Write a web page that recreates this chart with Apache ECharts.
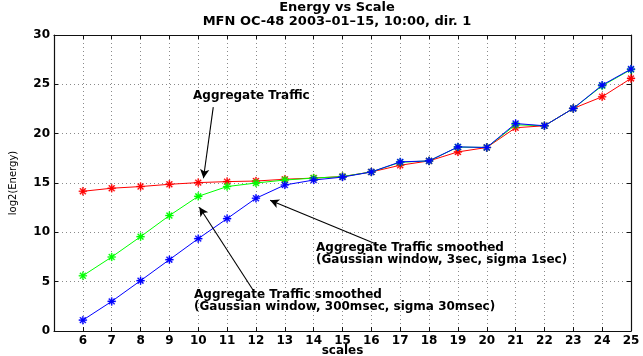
<!DOCTYPE html>
<html>
<head>
<meta charset="utf-8">
<script src="https://cdn.jsdelivr.net/npm/echarts@6/dist/echarts.min.js"></script>
<style>
  html, body { margin: 0; padding: 0; background: #fff; }
  #chart { width: 643px; height: 356px; }
</style>
</head>
<body>
<div id="chart"></div>
<script>
// Wavelet scales on the x axis
var scales = [6, 7, 8, 9, 10, 11, 12, 13, 14, 15, 16, 17, 18, 19, 20, 21, 22, 23, 24, 25];

// log2(Energy) per scale
var aggregate = [14.16, 14.47, 14.64, 14.87, 15.04, 15.14, 15.2, 15.38, 15.5, 15.65,
                 16.12, 16.8, 17.24, 18.15, 18.6, 20.6, 20.8, 22.56, 23.74, 25.6];
var smoothed3sec = [5.6, 7.5, 9.56, 11.7, 13.65, 14.64, 15.0, 15.3, 15.5, 15.65,
                    16.12, 17.1, 17.24, 18.64, 18.6, 20.9, 20.8, 22.56, 24.85, 26.5];
var smoothed300ms = [1.1, 3.0, 5.1, 7.23, 9.36, 11.39, 13.45, 14.8, 15.3, 15.6,
                     16.12, 17.14, 17.24, 18.66, 18.6, 21.03, 20.8, 22.56, 24.92, 26.55];

// Axis ranges and tick spacing
var xRange = [5, 25];
var yRange = [0, 30];
var yStep = 5;

// Annotation arrows: [tail, head] in data coordinates
var arrows = [
  [[10.52, 22.69], [10.18, 15.48]],
  [[16.12, 8.88], [12.49, 13.25]],
  [[11.91, 4.11], [10.04, 12.54]]
];

function pairs(vals) {
  return scales.map(function (s, i) { return [s, vals[i]]; });
}

// MATLAB-style asterisk marker
var asterisk = 'path://' +
  'M-0.7,-5L0.7,-5L0.7,5L-0.7,5Z' +
  'M-5,-0.7L5,-0.7L5,0.7L-5,0.7Z' +
  'M-3.04,-4.03L4.03,3.04L3.04,4.03L-4.03,-3.04Z' +
  'M3.04,-4.03L4.03,-3.04L-3.04,4.03L-4.03,3.04Z';

var FONT = 'DejaVu Sans';
var gridLine = { show: true, lineStyle: { color: '#8a8a8a', width: 1, type: [1, 3] } };
var frame = { show: true, onZero: false, lineStyle: { color: '#111', width: 1.2 } };
var inTick = { show: true, inside: true, length: 4, lineStyle: { color: '#111', width: 1 } };

function lineSeries(name, vals, color, z) {
  return {
    name: name,
    type: 'line',
    data: pairs(vals),
    symbol: asterisk,
    symbolSize: 8,
    symbolKeepAspect: true,
    lineStyle: { color: color, width: 1 },
    itemStyle: { color: color, borderColor: color, borderWidth: 0.3 },
    z: z
  };
}

var chart = echarts.init(document.getElementById('chart'), null, { renderer: 'canvas' });

var aggSeries = lineSeries('Aggregate Traffic', aggregate, '#ff0000', 2);
aggSeries.markLine = {
  silent: true,
  symbol: ['none', 'arrow'],
  symbolSize: [7, 9],
  label: { show: false },
  lineStyle: { color: '#000', width: 1.1, type: 'solid' },
  data: arrows.map(function (a) {
    return [{ coord: a[0] }, { coord: a[1] }];
  })
};

chart.setOption({
  animation: false,
  backgroundColor: '#fff',
  grid: { left: 54, right: 12, top: 35, bottom: 25, outerBoundsMode: 'none', containLabel: false },
  xAxis: [{
    type: 'value',
    min: xRange[0], max: xRange[1], interval: 1,
    position: 'bottom',
    name: 'scales',
    nameLocation: 'middle',
    nameGap: 14,
    nameMoveOverlap: false,
    nameTextStyle: { fontFamily: FONT, fontWeight: 'bold', fontSize: 12, color: '#000' },
    axisLine: frame,
    axisTick: inTick,
    splitLine: gridLine,
    axisLabel: {
      margin: 4,
      fontFamily: FONT, fontWeight: 'bold', fontSize: 12, color: '#000',
      formatter: function (v) { return v === xRange[0] ? '' : String(v); }
    }
  }, {
    type: 'value',
    min: xRange[0], max: xRange[1], interval: 1,
    position: 'top',
    axisLine: frame,
    axisTick: inTick,
    axisLabel: { show: false },
    splitLine: { show: false }
  }],
  yAxis: [{
    type: 'value',
    min: yRange[0], max: yRange[1], interval: yStep,
    position: 'left',
    name: 'log2(Energy)',
    nameLocation: 'middle',
    nameGap: 36,
    nameMoveOverlap: false,
    nameTextStyle: { fontFamily: FONT, fontSize: 10, color: '#000' },
    axisLine: frame,
    axisTick: inTick,
    splitLine: gridLine,
    axisLabel: { margin: 4, fontFamily: FONT, fontWeight: 'bold', fontSize: 12, color: '#000' }
  }, {
    type: 'value',
    min: yRange[0], max: yRange[1], interval: yStep,
    position: 'right',
    axisLine: frame,
    axisTick: inTick,
    axisLabel: { show: false },
    splitLine: { show: false }
  }],
  graphic: [
    {
      type: 'text', x: 337, y: 1, z: 10,
      style: {
        text: 'Energy vs Scale\nMFN OC-48 2003\u201301\u201315, 10:00, dir. 1',
        align: 'center', verticalAlign: 'top', lineHeight: 14,
        font: 'bold 13px "' + FONT + '"', fill: '#000'
      }
    },
    {
      type: 'text', x: 193, y: 90, z: 10,
      style: {
        text: 'Aggregate Traffic',
        verticalAlign: 'top',
        font: 'bold 12px "' + FONT + '"', fill: '#000'
      }
    },
    {
      type: 'text', x: 316, y: 242, z: 10,
      style: {
        text: 'Aggregate Traffic smoothed\n(Gaussian window, 3sec, sigma 1sec)',
        verticalAlign: 'top', lineHeight: 12,
        font: 'bold 12px "' + FONT + '"', fill: '#000'
      }
    },
    {
      type: 'text', x: 194, y: 289, z: 10,
      style: {
        text: 'Aggregate Traffic smoothed\n(Gaussian window, 300msec, sigma 30msec)',
        verticalAlign: 'top', lineHeight: 12,
        font: 'bold 12px "' + FONT + '"', fill: '#000'
      }
    }
  ],
  series: [
    aggSeries,
    lineSeries('Aggregate Traffic smoothed (3sec)', smoothed3sec, '#00ff00', 3),
    lineSeries('Aggregate Traffic smoothed (300msec)', smoothed300ms, '#0000ff', 4)
  ]
});
</script>
</body>
</html>
